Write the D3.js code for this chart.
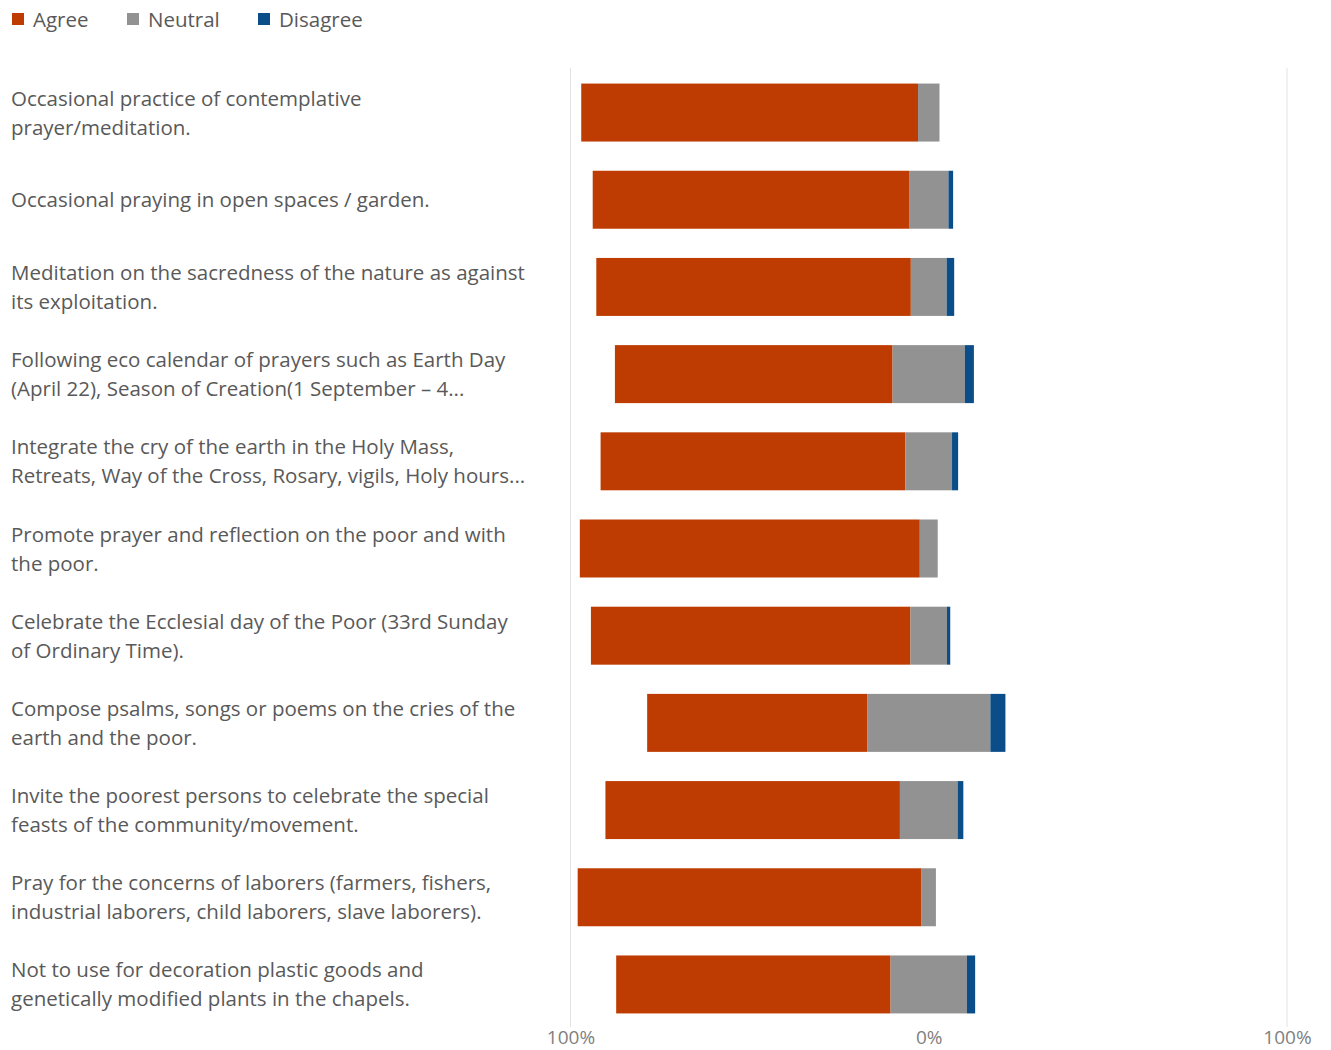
<!DOCTYPE html>
<html>
<head>
<meta charset="utf-8">
<script src="https://cdn.jsdelivr.net/npm/d3@7"></script>
<style>
  html, body { margin: 0; padding: 0; background: #ffffff; }
  svg { display: block; }
  text { font-family: "Open Sans", "Noto Sans", sans-serif; fill: #595959; }
</style>
</head>
<body>
<svg id="chart" width="1331" height="1050"></svg>
<script>
// ---- data ----
const categories = [
  "Occasional practice of contemplative|prayer/meditation.",
  "Occasional praying in open spaces / garden.",
  "Meditation on the sacredness of the nature as against|its exploitation.",
  "Following eco calendar of prayers such as Earth Day|(April 22), Season of Creation(1 September \u2013 4...",
  "Integrate the cry of the earth in the Holy Mass,|Retreats, Way of the Cross, Rosary, vigils, Holy hours...",
  "Promote prayer and reflection on the poor and with|the poor.",
  "Celebrate the Ecclesial day of the Poor (33rd Sunday|of Ordinary Time).",
  "Compose psalms, songs or poems on the cries of the|earth and the poor.",
  "Invite the poorest persons to celebrate the special|feasts of the community/movement.",
  "Pray for the concerns of laborers (farmers, fishers,|industrial laborers, child laborers, slave laborers).",
  "Not to use for decoration plastic goods and|genetically modified plants in the chapels."
];
const agree    = [94.0, 88.3, 87.8, 77.5, 85.1, 94.9, 89.2, 61.4, 82.2, 96.0, 76.6];
const neutral  = [ 6.0, 11.0, 10.0, 20.2, 13.0,  5.0, 10.2, 34.4, 16.1,  4.0, 21.3];
const disagree = [ 0.0,  1.3,  2.1,  2.5,  1.7,  0.0,  0.9,  4.2,  1.6,  0.0,  2.3];
const seriesNames = ["Agree", "Neutral", "Disagree"];
const tickValues = [-100, 0, 100];
const tickLabels = ["100%", "0%", "100%"];

const colors = { Agree: "#BE3C02", Neutral: "#929292", Disagree: "#0B4D88" };

const rows = categories.map((c, i) => ({
  cat: c, agree: agree[i], neutral: neutral[i], disagree: disagree[i]
}));

const svg = d3.select("#chart");

const x = d3.scaleLinear().domain([-100, 100]).range([570.5, 1287]);
const y = d3.scaleBand().domain(categories).range([69, 1028])
  .paddingInner(0.335).paddingOuter(0.167);

// gridlines
svg.append("g").selectAll("line").data([-100, 100]).join("line")
  .attr("x1", d => x(d)).attr("x2", d => x(d))
  .attr("y1", 68).attr("y2", 1027)
  .attr("stroke", "#e3e3e3").attr("stroke-width", 1);

// bars
const segs = [];
rows.forEach(r => {
  const h = r.neutral / 2;
  segs.push({ cat: r.cat, s: "Agree", x0: -h - r.agree, x1: -h });
  segs.push({ cat: r.cat, s: "Neutral", x0: -h, x1: h });
  if (r.disagree > 0) segs.push({ cat: r.cat, s: "Disagree", x0: h, x1: h + r.disagree });
});
svg.append("g").selectAll("rect").data(segs).join("rect")
  .attr("x", d => x(d.x0))
  .attr("width", d => x(d.x1) - x(d.x0))
  .attr("y", d => y(d.cat))
  .attr("height", y.bandwidth())
  .attr("fill", d => colors[d.s]);

// category labels
const lab = svg.append("g");
categories.forEach(c => {
  const lines = c.split("|");
  const cy = y(c) + y.bandwidth() / 2;
  const lh = 29;
  const t = lab.append("text").attr("font-size", 20.5);
  lines.forEach((ln, j) => {
    t.append("tspan").attr("x", 11)
      .attr("y", cy + (j - (lines.length - 1) / 2) * lh + 7.5)
      .text(ln);
  });
});

// x axis
const xAxis = d3.axisBottom(x).tickValues(tickValues)
  .tickFormat((d, i) => tickLabels[i]).tickSize(0).tickPadding(0);
const ax = svg.append("g").attr("transform", "translate(0,1027)").call(xAxis);
ax.select(".domain").remove();
ax.selectAll("text")
  .attr("dy", null).attr("y", 17)
  .style("font-family", "'Open Sans', 'Noto Sans', sans-serif")
  .style("font-size", "19px").style("fill", "#7f7f7f");

// legend
const legX = [12, 127, 258];
const leg = svg.append("g");
seriesNames.forEach((s, i) => {
  leg.append("rect").attr("x", legX[i]).attr("y", 13).attr("width", 12).attr("height", 12)
    .attr("fill", colors[s]);
  leg.append("text").attr("x", legX[i] + 21).attr("y", 27).attr("font-size", 20.5).text(s);
});
</script>
</body>
</html>
